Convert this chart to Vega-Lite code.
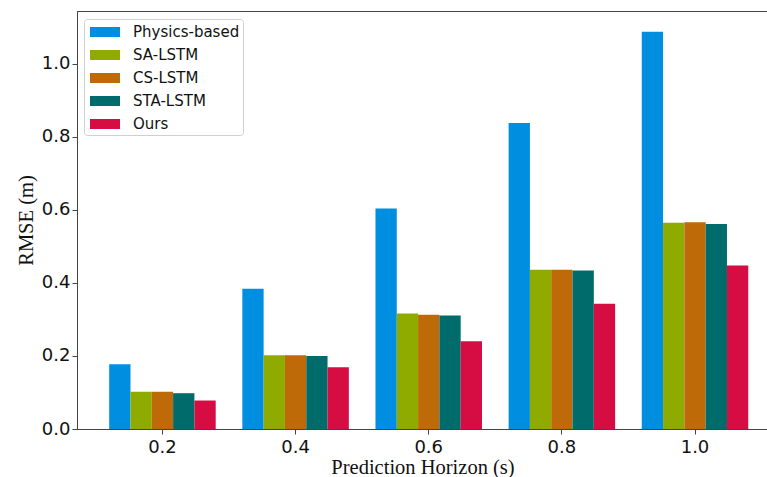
{
  "$schema": "https://vega.github.io/schema/vega-lite/v6.json",
  "width": 691,
  "height": 418,
  "autosize": {"type": "none"},
  "padding": {"left": 77, "top": 11, "right": 0, "bottom": 48},
  "background": "white",
  "config": {
    "view": {"stroke": "#444", "strokeWidth": 1},
    "axis": {
      "domainColor": "#444",
      "tickColor": "#444",
      "tickSize": 5,
      "labelFont": "DejaVu Sans",
      "labelFontSize": 18,
      "labelColor": "#111",
      "titleFont": "Liberation Serif",
      "titleFontSize": 20.5,
      "titleFontWeight": "normal",
      "titleColor": "#111",
      "grid": false
    }
  },
  "data": {
    "values": [
      {"h": "0.2", "m": "Physics-based", "v": 0.177},
      {"h": "0.2", "m": "SA-LSTM", "v": 0.102},
      {"h": "0.2", "m": "CS-LSTM", "v": 0.102},
      {"h": "0.2", "m": "STA-LSTM", "v": 0.098},
      {"h": "0.2", "m": "Ours", "v": 0.078},
      {"h": "0.4", "m": "Physics-based", "v": 0.384},
      {"h": "0.4", "m": "SA-LSTM", "v": 0.202},
      {"h": "0.4", "m": "CS-LSTM", "v": 0.202},
      {"h": "0.4", "m": "STA-LSTM", "v": 0.2},
      {"h": "0.4", "m": "Ours", "v": 0.169},
      {"h": "0.6", "m": "Physics-based", "v": 0.604},
      {"h": "0.6", "m": "SA-LSTM", "v": 0.316},
      {"h": "0.6", "m": "CS-LSTM", "v": 0.313},
      {"h": "0.6", "m": "STA-LSTM", "v": 0.311},
      {"h": "0.6", "m": "Ours", "v": 0.24},
      {"h": "0.8", "m": "Physics-based", "v": 0.838},
      {"h": "0.8", "m": "SA-LSTM", "v": 0.436},
      {"h": "0.8", "m": "CS-LSTM", "v": 0.436},
      {"h": "0.8", "m": "STA-LSTM", "v": 0.434},
      {"h": "0.8", "m": "Ours", "v": 0.343},
      {"h": "1.0", "m": "Physics-based", "v": 1.088},
      {"h": "1.0", "m": "SA-LSTM", "v": 0.565},
      {"h": "1.0", "m": "CS-LSTM", "v": 0.566},
      {"h": "1.0", "m": "STA-LSTM", "v": 0.561},
      {"h": "1.0", "m": "Ours", "v": 0.448}
    ]
  },
  "mark": {"type": "bar"},
  "encoding": {
    "x": {
      "field": "h",
      "type": "nominal",
      "sort": null,
      "scale": {"paddingInner": 0.2, "paddingOuter": 0.195, "align": 0.62},
      "axis": {"title": "Prediction Horizon (s)", "labelAngle": 0, "labelPadding": 4, "titleY": 28}
    },
    "xOffset": {
      "field": "m",
      "type": "nominal",
      "sort": ["Physics-based", "SA-LSTM", "CS-LSTM", "STA-LSTM", "Ours"],
      "scale": {"paddingInner": 0, "paddingOuter": 0}
    },
    "y": {
      "field": "v",
      "type": "quantitative",
      "scale": {"domain": [0, 1.1445], "nice": false},
      "axis": {"title": "RMSE (m)", "values": [0, 0.2, 0.4, 0.6, 0.8, 1.0], "format": ".1f", "titleX": -41}
    },
    "color": {
      "field": "m",
      "type": "nominal",
      "sort": ["Physics-based", "SA-LSTM", "CS-LSTM", "STA-LSTM", "Ours"],
      "scale": {
        "domain": ["Physics-based", "SA-LSTM", "CS-LSTM", "STA-LSTM", "Ours"],
        "range": ["#008fe0", "#8fab00", "#bf6a08", "#006b6b", "#d60d43"]
      },
      "legend": {
        "title": null,
        "orient": "none",
        "legendX": 7,
        "legendY": 8,
        "padding": 3,
        "strokeColor": "#d0d0d0",
        "fillColor": "white",
        "cornerRadius": 3,
        "symbolType": "M-0.7,-0.5H2.3V0.5H-0.7Z",
        "symbolSize": 400,
        "symbolStrokeWidth": 0,
        "symbolOpacity": 1,
        "labelFont": "DejaVu Sans",
        "labelFontSize": 15,
        "labelColor": "#111",
        "labelOffset": 26,
        "rowPadding": 5
      }
    }
  }
}
